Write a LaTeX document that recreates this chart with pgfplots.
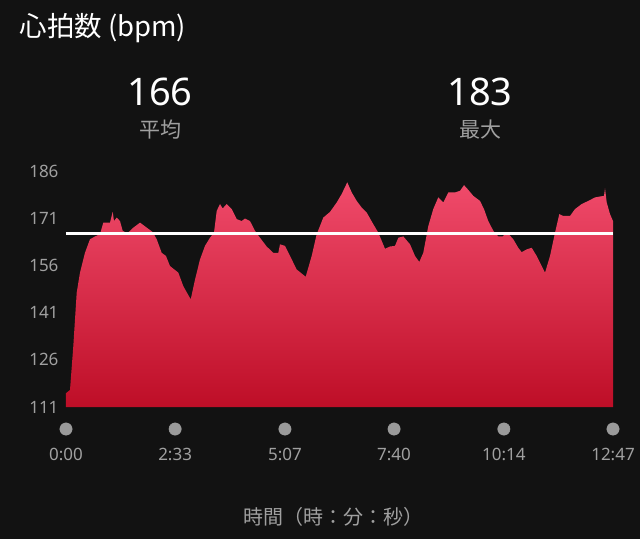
\documentclass[border=0pt]{standalone}
\usepackage{fontspec}
\usepackage{pgfplots}
\pgfplotsset{compat=1.18}
\setmainfont{Noto Sans}
\newfontfamily\cjk{Noto Sans CJK JP}
\definecolor{bg}{HTML}{121212}
\definecolor{lbl}{HTML}{A0A0A0}
\definecolor{dot}{HTML}{9A9A9A}
\definecolor{hrtop}{HTML}{F04B6B}
\definecolor{hrbot}{HTML}{BE0E27}
\begin{document}
\begin{tikzpicture}[x=1pt,y=1pt]
\fill[bg] (0,0) rectangle (640,539);
% title and summary
\node[anchor=west,text=white,font=\cjk\fontsize{27.5}{27.5}\selectfont] at (16,511) {心拍数 (bpm)};
\node[text=white,font=\fontsize{38}{38}\selectfont] at (160,447) {166};
\node[text=lbl,font=\cjk\fontsize{21}{21}\selectfont] at (160,409) {平均};
\node[text=white,font=\fontsize{38}{38}\selectfont] at (480,447) {183};
\node[text=lbl,font=\cjk\fontsize{21}{21}\selectfont] at (480,409) {最大};
\node[text=lbl,font=\cjk\fontsize{20}{20}\selectfont] at (333,22) {時間（時：分：秒）};
\begin{axis}[
    at={(66pt,132pt)}, anchor=south west,
    scale only axis,
    width=547pt, height=236pt,
    xmin=0, xmax=767,
    ymin=111, ymax=186,
    axis line style={draw=none},
    tick style={draw=none},
    ytick={111,126,141,156,171,186},
    xtick={0,153,307,460,614,767},
    xticklabels={0:00,2:33,5:07,7:40,10:14,12:47},
    yticklabel style={text=lbl,font=\fontsize{17}{17}\selectfont,/pgf/number format/assume math mode=true,xshift=-4pt},
    xticklabel style={text=lbl,font=\fontsize{17}{17}\selectfont,yshift=-38pt},
    clip=false,
]
\addplot[draw=none, top color=hrtop, bottom color=hrbot] coordinates {
(0,115.4)(5.6,116.4)(10.2,130.2)(15,147.3)(19.6,153.7)(26.6,160)(33.6,164.3)
(40.7,165.2)(47.7,165.9)(52.3,169.6)(61.7,169.6)(65.5,173)(67.3,170.1)(71.1,171.2)
(75.7,170.1)(79.5,167)(86,166.2)(94.4,168)(103.8,169.6)(113.2,168)(121.6,166.6)
(127.2,164.3)(134.2,160)(140.2,159)(145.8,155.8)(157.5,153.7)(164.5,149.4)(174.9,145.2)
(180.9,151.5)(187.9,157.9)(194.9,162.2)(201.9,164.8)(207.5,166.4)(211.3,173.3)(215.9,175.5)
(219.7,174.1)(225.3,175.5)(232.3,173.9)(239.4,170.7)(246.4,170.1)(251,170.9)(258,170.1)
(265,167)(272,164.8)(281.4,162)(290.7,160)(297.7,160)(300.1,162.7)(307.1,162.2)
(314.1,159)(323.5,154.7)(336.1,152.4)(344.5,159)(351.5,165.9)(360.8,171.2)(370.2,173)
(379.6,176)(386.6,178.7)(394.4,182.4)(400.6,179.2)(407.6,176.5)(414.6,174.4)(421.6,172.8)
(430.9,169.1)(437.9,166.4)(447.3,161.3)(454.3,162)(461.3,162.2)(466,164.8)(473,165.2)
(482.4,162.7)(489.4,159)(495.4,157.1)(501,160)(508,168.5)(515,173.9)(522,177.6)
(529.1,176)(536.1,179.2)(545.5,179.2)(552.5,179.7)(558.1,181.5)(564.1,180)(571.1,178.1)
(580.5,176.5)(586.1,173.9)(592.1,170.1)(599.2,167)(606.2,165.2)(612.3,165.2)(617.9,166.6)
(627.2,164.3)(634.2,161.6)(639,160.2)(646,161.1)(653,161.6)(660,159)(671.7,153.7)
(678.7,159)(685.7,166.4)(691.7,172.3)(697.3,171.7)(706.7,171.7)(713.7,173.9)(723.1,175.5)
(732.4,176.5)(741.8,177.6)(748.8,177.9)(754.4,178.1)(755.8,180.5)(758.2,176)(762.8,172.3)
(767,170.1)
} \closedcycle;
\addplot[white, line width=3pt] coordinates {(0,166)(767,166)};
\addplot[only marks, mark=*, mark size=6.2pt, dot, mark options={draw=dot, fill=dot}]
  coordinates {(0,104)(153,104)(307,104)(460,104)(614,104)(767,104)};
\end{axis}
\end{tikzpicture}
\end{document}
